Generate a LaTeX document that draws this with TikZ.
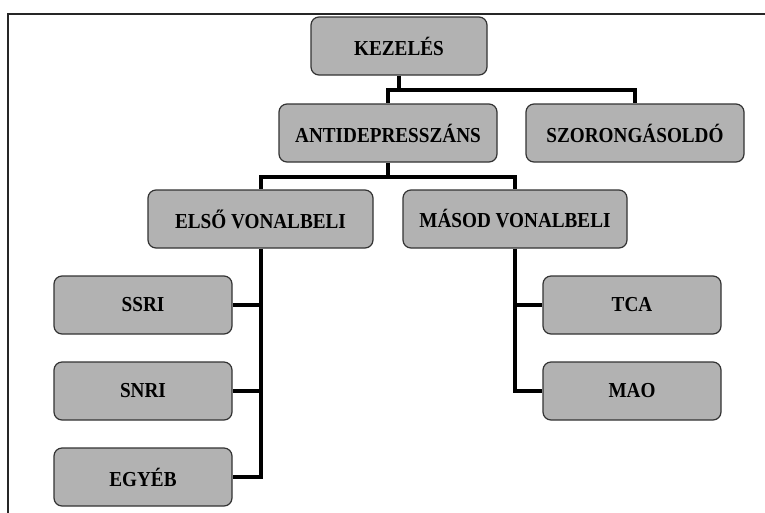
\documentclass[tikz,border=0pt]{standalone}
\usepackage{fontspec}
\setmainfont{Liberation Serif}[FakeStretch=0.9]
\usepackage{tikz}

\begin{document}
\begin{tikzpicture}[x=0.75pt, y=-0.75pt,
		box/.style={draw=black!80, line width=0.9pt, fill=black!30, rounded corners=6pt,
			minimum height=43.5pt, inner sep=0pt,
			font=\fontsize{16}{19}\selectfont\bfseries},
		conn/.style={line width=3pt, color=black},
		frame/.style={line width=1.3pt, color=black!85}]
		%%%%% START %%%%%
		
		\useasboundingbox (0, 0) rectangle (765, 512);
		\draw[frame] (8, 14) rectangle (800, 560);
		
		\node[box, minimum width=132pt] (kez) at (399, 46) {KEZELÉS};
		\node[box, minimum width=163.5pt] (anti) at (388, 133) {ANTIDEPRESSZÁNS};
		\node[box, minimum width=163.5pt] (szor) at (635, 133) {SZORONGÁSOLDÓ};
		
		\node[box, minimum width=168.75pt] (elso) at (260.5, 219) {ELSŐ VONALBELI};
		\node[box, minimum width=168pt] (masod) at (515, 219) {MÁSOD VONALBELI};
		
		\node[box, minimum width=133.5pt] (ssri) at (143, 305) {SSRI};
		\node[box, minimum width=133.5pt] (snri) at (143, 391) {SNRI};
		\node[box, minimum width=133.5pt] (egyeb) at (143, 477) {EGYÉB};
		
		\node[box, minimum width=133.5pt] (tca) at (632, 305) {TCA};
		\node[box, minimum width=133.5pt] (mao) at (632, 391) {MAO};
		
		\coordinate (j1) at (0, 90);
		\coordinate (j2) at (0, 177);
		
		\draw[conn] (kez.south) -- (kez.south |- j1) -| (anti.north);
		\draw[conn] (kez.south |- j1) -| (szor.north);
		
		\draw[conn] (anti.south) -- (anti.south |- j2) -| (elso.north);
		\draw[conn] (anti.south |- j2) -| (masod.north);
		
		\draw[conn] (elso.south) |- (egyeb.east);
		\draw[conn] (elso.south |- ssri.east) -- (ssri.east);
		\draw[conn] (elso.south |- snri.east) -- (snri.east);
		
		\draw[conn] (masod.south) |- (mao.west);
		\draw[conn] (masod.south |- tca.west) -- (tca.west);
		
		%%%%% END %%%%%
	\end{tikzpicture}
\end{document}
